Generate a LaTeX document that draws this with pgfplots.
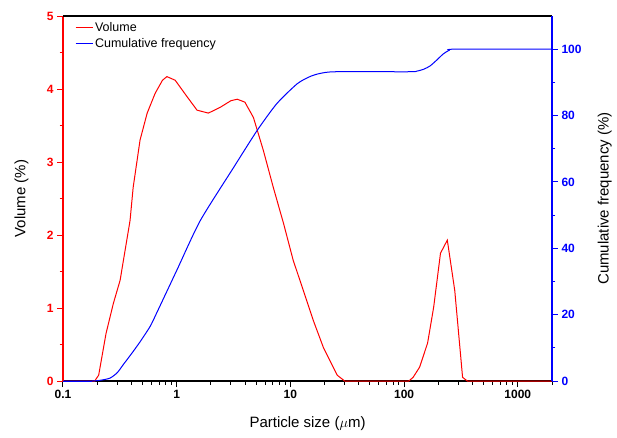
\documentclass[border=0pt]{standalone}
\usepackage{pgfplots}
\pgfplotsset{compat=1.18}
\usepackage{fontspec}
\setmainfont{Liberation Sans}
\definecolor{vred}{RGB}{255,0,0}
\definecolor{cblue}{RGB}{0,0,255}
\begin{document}
\begin{tikzpicture}
\pgfplotsset{
  every axis/.append style={
    /pgf/number format/assume math mode=true,
    tick label style={font=\fontsize{12}{14}\selectfont\bfseries},
    label style={font=\fontsize{15}{17}\selectfont},
    tick align=outside,
    major tick length=6pt,
    minor tick length=3.5pt,
    scale only axis,
    width=489pt, height=365pt,
    xmode=log,
    xmin=0.1, xmax=2000,
    clip=false,
  }
}
% frame: left red axis, bottom black axis
\begin{axis}[
  name=main,
  ymin=0, ymax=5,
  xtick={0.1,1,10,100,1000},
  xticklabels={0.1,1,10,100,1000},
  minor xtick={0.2,0.3,0.4,0.5,0.6,0.7,0.8,0.9,2,3,4,5,6,7,8,9,20,30,40,50,60,70,80,90,200,300,400,500,600,700,800,900,2000},
  ytick={0,1,2,3,4,5},
  minor y tick num=1,
  axis y line*=left,
  axis x line*=bottom,
  y axis line style={vred, line width=1.2pt},
  x axis line style={black, line width=1.2pt},
  ytick style={vred, line width=1pt},
  xtick style={black, line width=1pt},
  yticklabel style={vred},
  xlabel={Particle size ($\mu$m)},
  ylabel={Volume (\%)},
  xlabel style={at={(axis description cs:0.5,-0.118)}, anchor=center},
  ylabel style={at={(axis description cs:-0.085,0.5)}, anchor=center},
]
\end{axis}
% red volume curve (and legend), drawn above the frame lines
\begin{axis}[
  ymin=0, ymax=5,
  hide axis,
  legend style={draw=none, fill=none, at={(axis description cs:0.018,0.995)}, anchor=north west, font=\fontsize{12.5}{14}\selectfont, row sep=2pt},
  legend cell align=left,
]
\addplot[color=vred, line width=1pt] coordinates {
(0.1,0) (0.15,0) (0.19,0) (0.206,0.08) (0.239,0.65) (0.277,1.06) (0.318,1.38) (0.364,1.93) (0.389,2.2) (0.414,2.65) (0.476,3.3) (0.55,3.67) (0.646,3.94) (0.75,4.12) (0.82,4.17) (0.97,4.12) (1.24,3.89) (1.51,3.71) (1.9,3.67) (2.42,3.75) (3.0,3.84) (3.41,3.86) (3.98,3.82) (4.73,3.61) (5.78,3.16) (7.08,2.65) (8.7,2.16) (10.6,1.65) (13,1.24) (15.9,0.83) (19.5,0.46) (25.8,0.08) (30,0) (100,0) (110,0) (120,0.05) (137,0.19) (161,0.52) (182,1.01) (209,1.75) (240,1.93) (279,1.24) (327,0.05) (360,0) (2000,0)
};
\addlegendentry{Volume}
% the flat zero start of the cumulative curve (0 on both scales)
\addplot[color=cblue, line width=1pt] coordinates {(0.1,0) (0.18,0)};
\addlegendentry{Cumulative frequency}
\end{axis}
% right blue axis with cumulative curve
\begin{axis}[
  ymin=0, ymax=110,
  ytick={0,20,40,60,80,100},
  minor y tick num=1,
  axis y line*=right,
  axis x line*=top,
  x axis line style={black, line width=1.2pt},
  xtick=\empty, xticklabels={},
  y axis line style={cblue, line width=1.2pt},
  ytick style={cblue, line width=1pt},
  yticklabel style={cblue},
  ylabel={Cumulative frequency (\%)},
  ylabel style={at={(axis description cs:1.108,0.5)}, anchor=center},
]
\addplot[color=cblue, line width=1pt, smooth, tension=0.4] coordinates {
(0.1,0) (0.18,0) (0.22,0.3) (0.26,0.9) (0.3,2.5) (0.34,5.0) (0.4,8.2) (0.476,11.8) (0.585,16.5) (0.673,20.8) (1,33.3) (1.61,48.3) (3.16,64.3) (5.1,75.5) (7.6,83.6) (11.5,89.6) (15,91.8) (18.3,92.7) (25,93.2) (110,93.2) (130,93.4) (150,94.0) (170,95.0) (195,96.8) (220,98.5) (250,99.7) (282,100) (2000,100)
};
\end{axis}
\pgfresetboundingbox
\path[use as bounding box] ([shift={(-63pt,-56pt)}]main.south west) rectangle ([shift={(65pt,16pt)}]main.north east);
\end{tikzpicture}
\end{document}
